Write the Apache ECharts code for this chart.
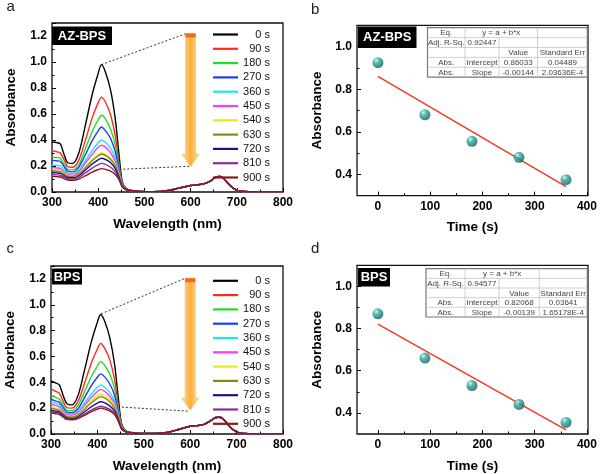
<!DOCTYPE html>
<html><head><meta charset="utf-8">
<script src="https://cdn.jsdelivr.net/npm/echarts@6/dist/echarts.min.js"></script>
<style>html,body{margin:0;padding:0;background:#fff}#c{width:600px;height:474px}</style>
</head><body><div id="c"></div>
<script>
// ---------- data ----------
const times = ['0 s','90 s','180 s','270 s','360 s','450 s','540 s','630 s','720 s','810 s','900 s'];
const colors = ['#000000','#ff2a1a','#1fe01f','#1a3cff','#19e6f0','#ff38ff','#e8e81a','#8a8a10','#14148c','#8c2ca0','#8c1a1a'];
const wlHead = [300,310,318,326,334,345,358,372,387,399,407,416,427,437,445,452,460];
const wlTail = [470,490,520,550,575,600,615,630,645,655,662,670,680,690,700,710,725,750,800];
const azHead = [
 [0.385,0.38,0.37,0.29,0.225,0.22,0.30,0.51,0.75,0.90,0.98,0.92,0.78,0.56,0.29,0.08,0.03],
 [0.315,0.31,0.30,0.25,0.195,0.19,0.245,0.395,0.57,0.68,0.73,0.69,0.59,0.43,0.22,0.07,0.025],
 [0.27,0.265,0.26,0.215,0.175,0.17,0.21,0.33,0.465,0.55,0.59,0.56,0.48,0.36,0.19,0.065,0.025],
 [0.245,0.24,0.235,0.195,0.16,0.155,0.19,0.285,0.395,0.465,0.50,0.47,0.41,0.31,0.17,0.06,0.02],
 [0.21,0.205,0.20,0.17,0.145,0.14,0.165,0.24,0.32,0.375,0.40,0.38,0.335,0.26,0.15,0.055,0.02],
 [0.19,0.185,0.18,0.155,0.135,0.13,0.155,0.22,0.29,0.34,0.36,0.345,0.30,0.235,0.14,0.05,0.02],
 [0.175,0.17,0.165,0.145,0.128,0.125,0.14,0.19,0.25,0.285,0.30,0.29,0.26,0.21,0.13,0.05,0.02],
 [0.165,0.16,0.155,0.138,0.122,0.12,0.137,0.185,0.24,0.275,0.29,0.28,0.25,0.20,0.125,0.048,0.02],
 [0.15,0.147,0.143,0.127,0.112,0.11,0.125,0.168,0.215,0.245,0.26,0.25,0.225,0.18,0.115,0.045,0.02],
 [0.135,0.132,0.128,0.115,0.102,0.10,0.112,0.146,0.184,0.208,0.22,0.212,0.19,0.155,0.10,0.042,0.018],
 [0.12,0.118,0.115,0.103,0.092,0.09,0.099,0.124,0.153,0.171,0.18,0.174,0.16,0.135,0.095,0.04,0.018]
];
const azTail = [0.012,0.005,0.003,0.01,0.03,0.05,0.055,0.065,0.09,0.115,0.12,0.11,0.07,0.035,0.015,0.006,0.002,0.001,0.001];
const bpsHead = [
 [0.41,0.395,0.38,0.30,0.235,0.225,0.295,0.49,0.715,0.855,0.925,0.87,0.74,0.54,0.28,0.08,0.03],
 [0.35,0.33,0.315,0.255,0.205,0.20,0.25,0.39,0.55,0.65,0.70,0.66,0.57,0.42,0.22,0.07,0.025],
 [0.30,0.285,0.27,0.225,0.185,0.18,0.22,0.325,0.445,0.52,0.56,0.53,0.46,0.35,0.19,0.065,0.025],
 [0.27,0.255,0.245,0.205,0.17,0.165,0.195,0.28,0.375,0.435,0.465,0.44,0.385,0.30,0.17,0.06,0.02],
 [0.25,0.237,0.228,0.19,0.16,0.155,0.178,0.24,0.31,0.36,0.38,0.36,0.32,0.255,0.15,0.055,0.02],
 [0.23,0.22,0.21,0.177,0.15,0.145,0.165,0.22,0.285,0.325,0.345,0.33,0.29,0.235,0.14,0.05,0.02],
 [0.21,0.20,0.192,0.165,0.14,0.135,0.153,0.20,0.258,0.293,0.31,0.296,0.265,0.215,0.13,0.05,0.02],
 [0.20,0.19,0.183,0.158,0.134,0.13,0.146,0.19,0.242,0.274,0.29,0.277,0.248,0.20,0.125,0.048,0.02],
 [0.185,0.176,0.17,0.146,0.124,0.12,0.133,0.17,0.211,0.237,0.25,0.24,0.216,0.18,0.115,0.045,0.02],
 [0.175,0.167,0.16,0.14,0.118,0.115,0.125,0.153,0.185,0.205,0.215,0.207,0.19,0.16,0.105,0.042,0.018],
 [0.165,0.157,0.15,0.132,0.113,0.11,0.119,0.144,0.173,0.191,0.20,0.193,0.177,0.15,0.10,0.04,0.018]
];
const bpsTail = [0.012,0.005,0.004,0.012,0.035,0.06,0.065,0.075,0.105,0.128,0.13,0.12,0.08,0.04,0.017,0.006,0.002,0.001,0.001];
const kinTime = [0,90,180,270,360];
const azKin = [0.925,0.68,0.555,0.48,0.375];
const bpsKin = [0.87,0.66,0.53,0.44,0.355];
const azFitX = [0,360];
const azFitY = [0.860,0.342];
const bpsFitX = [0,360];
const bpsFitY = [0.821,0.320];
const specXTicks = [300,400,500,600,700,800];
const kinXTicks = [0,100,200,300,400];
const kinXMinor = [50,150,250,350];
const kinYTicks = [0.4,0.6,0.8,1.0];
const kinYMinor = [0.5,0.7,0.9];
const azGuideX = [[407,589],[437,600]];
const azGuideY = [[0.98,1.217],[0.173,0.198]];
const bpsGuideX = [[408,589],[444,595]];
const bpsGuideY = [[0.93,1.205],[0.21,0.177]];
const azArrow = {x:600, top:1.22, head:0.29, tip:0.196};
const bpsArrow = {x:600, top:1.205, head:0.277, tip:0.185};
const azTable = [['Eq.','y = a + b*x',null,''],['Adj. R-Sq.','0.92447','',''],['','','Value','Standard Err'],['Abs.','Intercept','0.86033','0.04489'],['Abs.','Slope','-0.00144','2.03636E-4']];
const bpsTable = [['Eq.','y = a + b*x',null,''],['Adj. R-Sq.','0.94577','',''],['','','Value','Standard Err'],['Abs.','Intercept','0.82068','0.03641'],['Abs.','Slope','-0.00139','1.65178E-4']];

// ---------- chart ----------
const FF = 'Liberation Sans, Arial, sans-serif';
const chart = echarts.init(document.getElementById('c'), null, {renderer:'canvas'});
const lab = {color:'#000', fontWeight:'bold', fontSize:12, fontFamily:FF};
const nameStyle = {color:'#000', fontWeight:'bold', fontSize:13.5, fontFamily:FF};
const tick = {inside:true, length:4, lineStyle:{color:'#000', width:1}};
const noLine = {show:false, onZero:false};

const grids = [
  {left:52, top:23, width:231, height:169},
  {left:357, top:25.4, width:231, height:170.2},
  {left:51, top:266, width:232, height:170},
  {left:357, top:265.3, width:231, height:171}
].map(g => Object.assign(g, {show:true, borderColor:'#111', borderWidth:1.3, backgroundColor:'transparent'}));

function specX(gi){
  return {gridIndex:gi, type:'value', min:300, max:800, interval:100, position:'bottom',
    axisLine:noLine, axisTick:tick, splitLine:{show:false},
    minorTick:{show:true, splitNumber:2, length:2.5, lineStyle:{color:'#000'}},
    axisLabel:Object.assign({margin:5, customValues:specXTicks}, lab),
    name:'Wavelength (nm)', nameLocation:'middle', nameGap:25, nameTextStyle:nameStyle};
}
function specY(gi){
  return {gridIndex:gi, type:'value', min:0, max:1.3, interval:0.2, position:'left',
    axisLine:noLine, axisTick:tick, splitLine:{show:false},
    minorTick:{show:true, splitNumber:2, length:2.5, lineStyle:{color:'#000'}},
    axisLabel:Object.assign({margin:5, showMaxLabel:false, formatter:v=>v.toFixed(1)}, lab),
    name:'Absorbance', nameLocation:'middle', nameGap:34, nameTextStyle:nameStyle};
}
function kinX(gi){
  return {gridIndex:gi, type:'value', min:-40, max:402, position:'bottom',
    axisLine:noLine, axisTick:Object.assign({customValues:kinXTicks}, tick), splitLine:{show:false},
    axisLabel:Object.assign({margin:5, customValues:kinXTicks, formatter:v=>String(Math.round(v))}, lab),
    name:'Time (s)', nameLocation:'middle', nameGap:25, nameTextStyle:nameStyle};
}
function kinY(gi){
  return {gridIndex:gi, type:'value', min:0.3, max:1.1, position:'left',
    axisLine:noLine, axisTick:Object.assign({customValues:kinYTicks}, tick), splitLine:{show:false},
    axisLabel:Object.assign({margin:5, customValues:kinYTicks, formatter:v=>v.toFixed(1)}, lab),
    name:'Absorbance', nameLocation:'middle', nameGap:33, nameTextStyle:nameStyle};
}
function minorX(gi){
  return {gridIndex:gi, type:'value', min:-40, max:402, position:'bottom', offset:0, axisLine:noLine,
    axisTick:{inside:true, length:2.5, customValues:kinXMinor, lineStyle:{color:'#000'}},
    axisLabel:{show:false}, splitLine:{show:false}};
}
function minorY(gi){
  return {gridIndex:gi, type:'value', min:0.3, max:1.1, position:'left', offset:0, axisLine:noLine,
    axisTick:{inside:true, length:2.5, customValues:kinYMinor, lineStyle:{color:'#000'}},
    axisLabel:{show:false}, splitLine:{show:false}};
}

function specSeries(head, tail, gi){
  return times.map((t,i)=>({
    type:'line', name:t, xAxisIndex:gi, yAxisIndex:gi, symbol:'none', smooth:0.3,
    lineStyle:{width:1.4, color:colors[i]}, itemStyle:{color:colors[i]},
    data: wlHead.map((w,j)=>[w, head[i][j]]).concat(wlTail.map((w,j)=>[w, tail[j]])),
    z:3, silent:true
  }));
}
function guideSeries(gx, gy, gi){
  return gx.map((xs,k)=>({
    type:'line', xAxisIndex:gi, yAxisIndex:gi, symbol:'none', silent:true,
    lineStyle:{type:[2,2], width:1, color:'#333'},
    data: xs.map((x,j)=>[x, gy[k][j]]), z:2
  }));
}
const ball = new echarts.graphic.RadialGradient(0.35,0.3,0.75,[
  {offset:0,color:'#c9f4f0'},{offset:0.35,color:'#2ea8a4'},{offset:1,color:'#0a5a5a'}]);
function kinSeries(ys, fx, fy, gi){
  return [
    {type:'line', xAxisIndex:gi, yAxisIndex:gi, symbol:'none', silent:true,
     lineStyle:{color:'#f23a22', width:1.5}, data: fx.map((x,j)=>[x, fy[j]]), z:3},
    {type:'scatter', xAxisIndex:gi, yAxisIndex:gi, symbolSize:11, silent:true,
     itemStyle:{color:ball}, data: kinTime.map((t,j)=>[t, ys[j]]), z:4}
  ];
}
function legendAt(top){
  return {data:times, orient:'vertical', left:213, top:top, icon:'rect', itemWidth:25, itemHeight:2.2, itemGap:3.3,
    padding:0, selectedMode:false,
    formatter:n=>'{t|'+n+'}',
    textStyle:{fontSize:11, color:'#111', fontFamily:FF, lineHeight:10,
      rich:{t:{width:27, align:'right', fontSize:11, lineHeight:10, fontFamily:FF, color:'#111'}}}};
}

chart.setOption({
  animation:false,
  grid:grids,
  xAxis:[specX(0), kinX(1), specX(2), kinX(3), minorX(1), minorX(3)],
  yAxis:[specY(0), kinY(1), specY(2), kinY(3), minorY(1), minorY(3)],
  legend:[legendAt(29), legendAt(275.3)],
  series:[].concat(
    specSeries(azHead, azTail, 0),
    guideSeries(azGuideX, azGuideY, 0),
    specSeries(bpsHead, bpsTail, 2),
    guideSeries(bpsGuideX, bpsGuideY, 2),
    kinSeries(azKin, azFitX, azFitY, 1),
    kinSeries(bpsKin, bpsFitX, bpsFitY, 3)
  )
});

// ---------- decorations ----------
const gr = [];
function arrow(gi, a){
  const p1 = chart.convertToPixel({gridIndex:gi}, [a.x, a.top]);
  const p2 = chart.convertToPixel({gridIndex:gi}, [a.x, a.head]);
  const p3 = chart.convertToPixel({gridIndex:gi}, [a.x, a.tip]);
  const cx = p1[0], sw = 5, hw = 8.5;
  gr.push({type:'polygon', z:10, shape:{points:[[cx-sw,p1[1]],[cx+sw,p1[1]],[cx+sw,p2[1]],[cx+hw,p2[1]],[cx,p3[1]],[cx-hw,p2[1]],[cx-sw,p2[1]]]},
    style:{fill:new echarts.graphic.LinearGradient(0,0,1,0,[{offset:0,color:'#fde0a4'},{offset:0.5,color:'#f9b03c'},{offset:1,color:'#fde0a4'}]), stroke:'#f6c070', lineWidth:0.8}});
  gr.push({type:'rect', z:11, shape:{x:cx-sw, y:p1[1], width:sw*2, height:4}, style:{fill:'#f26a1b'}});
}
arrow(0, azArrow);
arrow(2, bpsArrow);

function box(x, y, w, h, txt){
  gr.push({type:'rect', z:12, shape:{x:x, y:y, width:w, height:h}, style:{fill:'#000'}});
  gr.push({type:'text', z:13, style:{x:x+w/2, y:y+h/2+0.5, text:txt, fill:'#fff', font:'bold 13px '+FF, textAlign:'center', textVerticalAlign:'middle'}});
}
box(52, 26.5, 60, 18.5, 'AZ-BPS');
box(358, 26.5, 58.5, 21.5, 'AZ-BPS');
box(52, 268.5, 30, 16, 'BPS');
box(358, 268, 32, 18.5, 'BPS');

function letter(x, y, t){
  gr.push({type:'text', z:13, style:{x:x, y:y, text:t, fill:'#222', font:'15px '+FF, textVerticalAlign:'middle'}});
}
letter(6.5, 6.5, 'a');
letter(311, 9.5, 'b');
letter(6.5, 249, 'c');
letter(311, 248.5, 'd');

function table(x0, y0, edges, rowH, rows){
  const W = edges[edges.length-1]-edges[0];
  const H = rowH*rows.length;
  gr.push({type:'rect', z:12, shape:{x:x0, y:y0, width:W, height:H}, style:{fill:'#fff', stroke:'#777', lineWidth:1.2}});
  for(let r=1;r<rows.length;r++){
    gr.push({type:'line', z:13, shape:{x1:x0, y1:y0+r*rowH, x2:x0+W, y2:y0+r*rowH}, style:{stroke:'#c4c4c4', lineWidth:0.8}});
  }
  for(let c=1;c<edges.length-1;c++){
    for(let r=0;r<rows.length;r++){
      if(rows[r][c]===null) continue;
      gr.push({type:'line', z:13, shape:{x1:x0+edges[c], y1:y0+r*rowH, x2:x0+edges[c], y2:y0+(r+1)*rowH}, style:{stroke:'#c4c4c4', lineWidth:0.8}});
    }
  }
  rows.forEach((row,r)=>{
    row.forEach((t,c)=>{
      if(t===null || t==='') return;
      let xa = edges[c], xb = edges[c+1];
      if(row[c+1]===null) xb = edges[c+2];
      gr.push({type:'text', z:14, style:{x:x0+(xa+xb)/2, y:y0+(r+0.5)*rowH+0.5, text:t, fill:'#444', font:'8px '+FF, textAlign:'center', textVerticalAlign:'middle'}});
    });
  });
}
table(427.5, 27.7, [0,37.5,71.5,110,159.8], 9.9, azTable);
table(426, 268.7, [0,39,73,113.3,161.3], 9.66, bpsTable);

chart.setOption({graphic:gr});
</script>
</body></html>
